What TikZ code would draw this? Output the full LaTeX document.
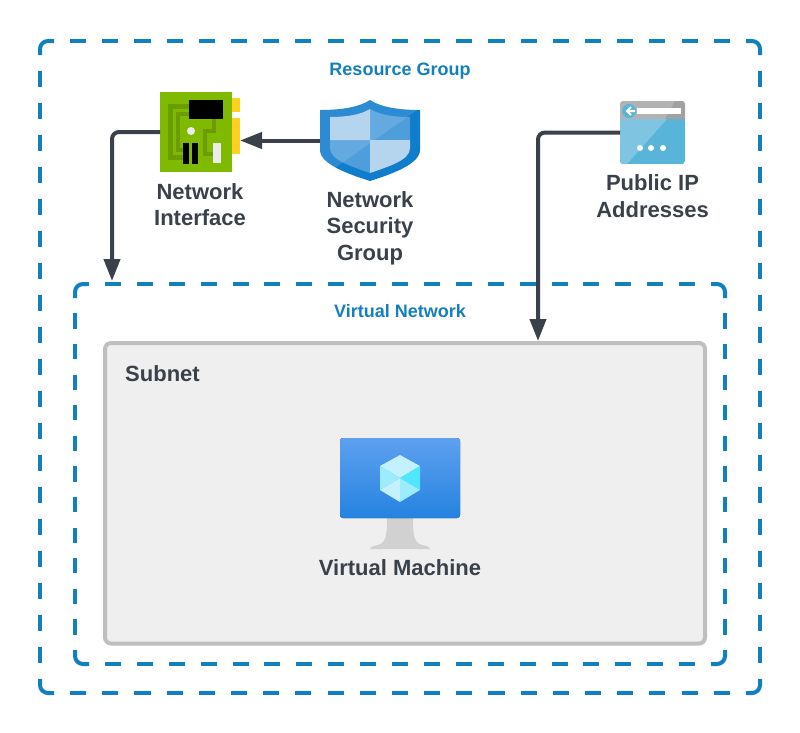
\documentclass[tikz,border=0pt]{standalone}
\usepackage{fontspec}
\setmainfont{Liberation Sans}
\usetikzlibrary{positioning}
\usetikzlibrary{arrows.meta}
\definecolor{groupblue}{HTML}{127FBF}
\definecolor{inkgray}{HTML}{3A414A}
\definecolor{subnetfill}{HTML}{EFEFEF}
\definecolor{nicgreen}{HTML}{7FBA00}
\definecolor{nictrace}{HTML}{6B9C00}
\definecolor{nicyellow}{HTML}{FFD01E}
\definecolor{shieldblue}{HTML}{0F7CCC}
\definecolor{shieldlight}{HTML}{B5D5EE}
\definecolor{shieldmid}{HTML}{4F9EDC}
\definecolor{pipblue}{HTML}{59B4D9}
\definecolor{piplight}{HTML}{7FC5E2}
\definecolor{vmtop}{HTML}{5EA0EF}
\definecolor{vmbottom}{HTML}{2583E0}
\definecolor{cubelight}{HTML}{C3F1FF}
\definecolor{cubemid}{HTML}{9CEBFF}
\definecolor{cubebright}{HTML}{50E6FF}
\tikzset{
  groupbox/.style={rectangle,inner sep=0pt,outer sep=0pt},
  groupline/.style={draw=groupblue,line width=4pt,rounded corners=8pt},
  subnetbox/.style={rectangle,draw=black!25,fill=subnetfill,line width=4pt,
                    rounded corners=6pt,inner sep=0pt,outer sep=0pt},
  icon/.style={rectangle,inner sep=0pt,outer sep=0pt},
  grouptitle/.style={text=groupblue,font=\fontsize{18}{22}\selectfont\bfseries,inner sep=0pt},
  iconlabel/.style={text=inkgray,align=center,inner sep=0pt,
                    font=\fontsize{22}{26.7}\selectfont\bfseries},
  link/.style={-{Triangle[length=22pt,width=16pt]},draw=inkgray,line width=4pt,rounded corners=7pt},
}
% solid corners, dashed sides: #2 and #3 are the dash lengths across and down
\newcommand{\groupframe}[3]{
  \draw[groupline] ([yshift=-14pt]#1.north west) -- (#1.north west) -- ([xshift=14pt]#1.north west);
  \draw[groupline] ([xshift=-14pt]#1.north east) -- (#1.north east) -- ([yshift=-14pt]#1.north east);
  \draw[groupline] ([yshift=14pt]#1.south east) -- (#1.south east) -- ([xshift=-14pt]#1.south east);
  \draw[groupline] ([xshift=14pt]#1.south west) -- (#1.south west) -- ([yshift=14pt]#1.south west);
  \draw[groupline,dash pattern=on #2pt off #2pt,dash phase=#2pt]
      ([xshift=14pt]#1.north west) -- ([xshift=-14pt]#1.north east);
  \draw[groupline,dash pattern=on #2pt off #2pt,dash phase=#2pt]
      ([xshift=14pt]#1.south west) -- ([xshift=-14pt]#1.south east);
  \draw[groupline,dash pattern=on #3pt off #3pt,dash phase=#3pt]
      ([yshift=-14pt]#1.north west) -- ([yshift=14pt]#1.south west);
  \draw[groupline,dash pattern=on #3pt off #3pt,dash phase=#3pt]
      ([yshift=-14pt]#1.north east) -- ([yshift=14pt]#1.south east);
}
\newcommand{\shieldoutline}{(50,0) .. controls (38,8) and (18,10) .. (0,10)
        -- (0,50) .. controls (0,64) and (28,74) .. (50,81)
        .. controls (72,74) and (100,64) .. (100,50) -- (100,10)
        .. controls (82,10) and (62,8) .. (50,0) -- cycle}
\begin{document}
\begin{tikzpicture}[x=1pt,y=-1pt]
    \useasboundingbox (0,0) rectangle (800,732);

    % Groups
    \node[groupbox,minimum width=720pt,minimum height=652pt] (rg) at (400,367) {};
    \node[groupbox,minimum width=650pt,minimum height=380pt] (vnet) at (400,474) {};
    \node[subnetbox,minimum width=600pt,minimum height=300.5pt] (subnet) at (405,493.25) {};
    \groupframe{rg}{16.09}{16}
    \groupframe{vnet}{15.95}{15.3}
    \node[grouptitle,below=22pt of rg.north] (rgtitle) {Resource Group};
    \node[grouptitle,below=20pt of vnet.north] (vnettitle) {Virtual Network};
    \node[iconlabel,anchor=north west] (subnettitle) at (125,365) {Subnet};

    % Icons
    \node[icon,minimum width=80pt,minimum height=80pt] (nic) at (200,132) {};
    \node[icon,minimum width=100pt,minimum height=81pt] (nsg) at (370,140.5) {};
    \node[icon,minimum width=65pt,minimum height=63pt] (pip) at (652.5,132.5) {};
    \node[icon,minimum width=120pt,minimum height=111pt] (vm) at (400,493.5) {};

    % Labels
    \node[iconlabel,below=11pt of nic] (niclabel) {Network\\Interface};
    \node[iconlabel,below=10pt of nsg] (nsglabel) {Network\\Security\\Group};
    \node[iconlabel,below=10.5pt of pip] (piplabel) {Public IP\\Addresses};
    \node[iconlabel,below=10pt of vm] (vmlabel) {Virtual Machine};

    % Network interface
    \begin{scope}[shift={(nic.north west)}]
      \fill[nicyellow] (72,6) rectangle (80,20);
      \fill[nicyellow] (72,26) rectangle (80,62);
      \fill[nicgreen] (0,0) rectangle (72,80);
      \draw[nictrace,line width=5pt] (30,14.5) -- (10.5,14.5) -- (10.5,65.5) -- (24,65.5);
      \draw[nictrace,line width=4pt] (30,21.5) -- (18,21.5) -- (18,58) -- (24,58);
      \draw[nictrace,line width=4pt] (54,27) -- (54,38.5) -- (45,38.5) -- (45,62) -- (54,62);
      \fill[black] (29,8) rectangle (63,27);
      \fill[black] (23,51) rectangle (29,72);
      \fill[black] (32,51) rectangle (38,72);
      \fill[black!8] (31,39) circle (4);
      \fill[black!8] (53,51) rectangle (61,71);
    \end{scope}

    % Security group
    \begin{scope}[shift={(nsg.north west)}]
      \fill[shieldblue] \shieldoutline;
      \fill[shieldmid] (90,17) .. controls (74,17) and (60,15) .. (50,9) -- (50,40) -- (90,40) -- cycle;
      \fill[shieldmid] (10,40) -- (50,40) -- (50,73) .. controls (30,66) and (10,60) .. (10,48) -- cycle;
      \begin{scope}
        \clip \shieldoutline;
        \fill[white,opacity=.12] (0,0) -- (100,0) -- (100,8) -- (12,70) -- (0,70) -- cycle;
      \end{scope}
      \fill[shieldlight] (10,17) .. controls (26,17) and (40,15) .. (50,9) -- (50,40) -- (10,40) -- cycle;
      \fill[shieldlight] (90,40) -- (50,40) -- (50,73) .. controls (70,66) and (90,60) .. (90,48) -- cycle;
    \end{scope}

    % Public address
    \begin{scope}[shift={(pip.north west)}]
      \begin{scope}
        \clip[rounded corners=3pt] (0,0) rectangle (65,63);
        \fill[pipblue] (0,18) rectangle (65,63);
        \fill[piplight] (0,18) -- (47,18) -- (7,63) -- (0,63) -- cycle;
        \fill[black!30] (0,0) rectangle (65,18);
        \fill[black!37] (45,18) -- (55,0) -- (65,0) -- (65,18) -- cycle;
      \end{scope}
      \fill[pipblue] (9,10) circle (7);
      \fill[white] (17,7) rectangle (61,13);
      \draw[white,line width=2pt] (15,10) -- (7,10) (11,6) -- (7,10) -- (11,14);
      \foreach \dotx in {20,31,43} {
        \fill[white] (\dotx,47) circle (3);
      }
    \end{scope}

    % Virtual machine
    \begin{scope}[shift={(vm.north west)}]
      \fill[black!18] (47,80) .. controls (47,100) and (46,106) .. (34,108)
        .. controls (31,109) and (30,110) .. (30,111) -- (90,111)
        .. controls (90,110) and (89,109) .. (86,108)
        .. controls (74,106) and (73,100) .. (73,80) -- cycle;
      \fill[top color=vmtop,bottom color=vmbottom,rounded corners=3pt] (0,0) rectangle (120,80);
      \fill[cubelight] (60,17) -- (80,28) -- (60,40) -- (40,28) -- cycle;
      \fill[cubebright] (80,28) -- (80,52) -- (60,40) -- cycle;
      \fill[cubemid] (40,28) -- (40,52) -- (60,40) -- cycle;
      \fill[cubelight] (40,52) -- (60,64) -- (60,40) -- cycle;
      \fill[cubemid] (80,52) -- (60,64) -- (60,40) -- cycle;
    \end{scope}

    % Connections
    \coordinate (vnetin) at (112,281);
    \coordinate (subnetin) at (538,341);
    \draw[link] (nic.west) -| (vnetin);
    \draw[link] (pip.west) -| (subnetin);
    \draw[link] (nsg.west) -- (nic.east |- nsg.west);
\end{tikzpicture}
\end{document}
